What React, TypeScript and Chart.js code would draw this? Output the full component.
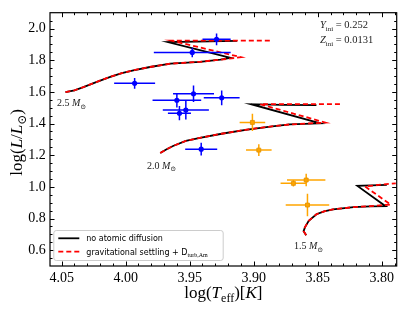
import React, { useEffect, useRef } from 'react';
import { Chart, registerables } from 'chart.js';

Chart.register(...registerables);

// ---------- axis limits & ticks ----------
const X_MIN = 3.7883;
const X_MAX = 4.0591;
const Y_MIN = 0.5;
const Y_MAX = 2.1;
const xTickValues = [4.05, 4.0, 3.95, 3.9, 3.85, 3.8];
const yTickValues = [0.6, 0.8, 1.0, 1.2, 1.4, 1.6, 1.8, 2.0];

// ---------- evolutionary tracks [log Teff, log L] ----------
const track25NoDiffusion: [number, number][] = [
  [4.047, 1.598], [4.040, 1.610], [4.033, 1.630], [4.022, 1.665], [4.012, 1.695], [4.003, 1.718],
  [3.994, 1.736], [3.981, 1.757], [3.965, 1.778], [3.942, 1.790], [3.926, 1.803], [3.918, 1.815],
  [3.967, 1.914], [3.945, 1.917], [3.913, 1.922],
];
const track25Settling: [number, number][] = [
  [4.047, 1.598], [4.040, 1.610], [4.033, 1.630], [4.022, 1.665], [4.012, 1.695], [4.003, 1.718],
  [3.994, 1.736], [3.981, 1.757], [3.965, 1.778], [3.942, 1.790], [3.926, 1.803], [3.910, 1.819],
  [3.964, 1.923], [3.930, 1.923], [3.887, 1.923],
];
const track20NoDiffusion: [number, number][] = [
  [3.973, 1.214], [3.968, 1.237], [3.963, 1.258], [3.953, 1.290], [3.942, 1.310], [3.924, 1.337],
  [3.905, 1.362], [3.887, 1.381], [3.872, 1.394], [3.848, 1.401],
  [3.902, 1.522], [3.878, 1.518], [3.851, 1.516],
];
const track20Settling: [number, number][] = [
  [3.973, 1.214], [3.968, 1.237], [3.963, 1.258], [3.953, 1.290], [3.942, 1.310], [3.924, 1.337],
  [3.905, 1.362], [3.887, 1.381], [3.872, 1.394], [3.844, 1.406],
  [3.895, 1.522], [3.860, 1.522], [3.831, 1.522],
];
const track15NoDiffusion: [number, number][] = [
  [3.859, 0.694], [3.861, 0.720], [3.860, 0.744], [3.857, 0.786], [3.851, 0.827], [3.845, 0.845],
  [3.838, 0.858], [3.822, 0.872], [3.809, 0.877], [3.797, 0.878],
  [3.819, 1.006], [3.808, 1.009], [3.796, 1.012],
];
const track15Settling: [number, number][] = [
  [3.859, 0.694], [3.861, 0.720], [3.860, 0.744], [3.857, 0.786], [3.851, 0.827], [3.845, 0.845],
  [3.838, 0.858], [3.822, 0.872], [3.809, 0.878], [3.793, 0.888],
  [3.813, 1.002], [3.800, 1.015], [3.789, 1.022],
];

// ---------- observed stars ----------
const blueTeff = [3.948, 3.929, 3.993, 3.947, 3.960, 3.925, 3.953, 3.958, 3.941];
const blueL = [1.849, 1.932, 1.654, 1.588, 1.547, 1.562, 1.485, 1.465, 1.238];
const blueTeffErr = [0.030, 0.011, 0.016, 0.016, 0.019, 0.014, 0.018, 0.009, 0.0125];
const blueLErr = [0.030, 0.037, 0.034, 0.052, 0.046, 0.046, 0.060, 0.045, 0.040];

const orangeTeff = [3.901, 3.896, 3.869, 3.859, 3.858];
const orangeL = [1.407, 1.232, 1.022, 1.043, 0.885];
const orangeTeffErr = [0.010, 0.010, 0.010, 0.015, 0.017];
const orangeLErr = [0.055, 0.037, 0.020, 0.040, 0.071];

const massLabels = ['2.5', '2.0', '1.5'];
const legendLabels = ['no atomic diffusion', 'gravitational settling + D'];
const yIniText = '0.252';
const zIniText = '0.0131';

const BLUE = '#0000ff';
const ORANGE = '#ffa500';
const SERIF = '"Liberation Serif", "DejaVu Serif", serif';
const SANS = '"DejaVu Sans", sans-serif';

type Part = { t: string; it?: boolean; sub?: boolean; fam?: string };

function drawRich(ctx: CanvasRenderingContext2D, parts: Part[], x: number, y: number, size: number, align: 'left' | 'center' = 'left') {
  const fontOf = (p: Part) => `${p.it ? 'italic ' : ''}${p.sub ? Math.round(size * 0.7) : size}px ${p.fam || SERIF}`;
  const widths = parts.map((p) => { ctx.font = fontOf(p); return ctx.measureText(p.t).width; });
  const total = widths.reduce((a, b) => a + b, 0);
  let cx = align === 'center' ? x - total / 2 : x;
  ctx.textAlign = 'left';
  ctx.textBaseline = 'alphabetic';
  parts.forEach((p, i) => {
    ctx.font = fontOf(p);
    ctx.fillText(p.t, cx, y + (p.sub ? size * 0.25 : 0));
    cx += widths[i];
  });
}

const toXY = (arr: [number, number][]) => arr.map(([x, y]) => ({ x, y }));

const decorPlugin = {
  id: 'decor',
  beforeDatasetDraw(chart: any, args: any) {
    const ctx: CanvasRenderingContext2D = chart.ctx;
    const xs = chart.scales.x;
    const ys = chart.scales.y;
    const drawErr = (tx: number[], ly: number[], ex: number[], ey: number[], color: string) => {
      ctx.save();
      ctx.strokeStyle = color;
      ctx.lineWidth = 1.5;
      ctx.beginPath();
      tx.forEach((v, i) => {
        const px = xs.getPixelForValue(v);
        const py = ys.getPixelForValue(ly[i]);
        ctx.moveTo(xs.getPixelForValue(v - ex[i]), py);
        ctx.lineTo(xs.getPixelForValue(v + ex[i]), py);
        ctx.moveTo(px, ys.getPixelForValue(ly[i] - ey[i]));
        ctx.lineTo(px, ys.getPixelForValue(ly[i] + ey[i]));
      });
      ctx.stroke();
      ctx.restore();
    };
    if (args.index === 0) drawErr(blueTeff, blueL, blueTeffErr, blueLErr, BLUE);
    if (args.index === 1) drawErr(orangeTeff, orangeL, orangeTeffErr, orangeLErr, ORANGE);
  },
  afterDraw(chart: any) {
    const ctx: CanvasRenderingContext2D = chart.ctx;
    const { left, right, top, bottom } = chart.chartArea;
    const xs = chart.scales.x;
    const ys = chart.scales.y;
    ctx.save();
    ctx.strokeStyle = '#000';
    ctx.lineWidth = 1;
    ctx.beginPath();
    for (let i = 379; i <= 405; i++) {
      const v = i / 100;
      const major = i % 5 === 0;
      const len = major ? 4.5 : 2.5;
      const px = Math.round(xs.getPixelForValue(v)) + 0.5;
      if (px <= left || px >= right) continue;
      ctx.moveTo(px, bottom); ctx.lineTo(px, bottom - len);
      ctx.moveTo(px, top); ctx.lineTo(px, top + len);
    }
    for (let i = 11; i <= 41; i++) {
      const v = i / 20;
      const major = i % 4 === 0;
      const len = major ? 4.5 : 2.5;
      const py = Math.round(ys.getPixelForValue(v)) + 0.5;
      if (py <= top || py >= bottom) continue;
      ctx.moveTo(left, py); ctx.lineTo(left + len, py);
      ctx.moveTo(right, py); ctx.lineTo(right - len, py);
    }
    ctx.stroke();
    ctx.lineWidth = 1.2;
    ctx.strokeRect(left, top, right - left, bottom - top);

    ctx.fillStyle = '#000';
    drawRich(ctx, [
      { t: 'log(' }, { t: 'T', it: true }, { t: 'eff', sub: true }, { t: ')[' }, { t: 'K', it: true }, { t: ']' },
    ], (left + right) / 2, 298, 17, 'center');
    ctx.save();
    ctx.translate(22, (top + bottom) / 2 + 3);
    ctx.rotate(-Math.PI / 2);
    drawRich(ctx, [
      { t: 'log(' }, { t: 'L', it: true }, { t: '/' }, { t: 'L', it: true }, { t: '\u2299', sub: true }, { t: ')' },
    ], 0, 0, 17, 'center');
    ctx.restore();

    ctx.fillStyle = '#222';
    const massPos: [number, number][] = [[4.0537, 1.508], [3.9834, 1.113], [3.8685, 0.607]];
    massLabels.forEach((m, i) => {
      drawRich(ctx, [{ t: m + ' ' }, { t: 'M', it: true }, { t: '\u2299', sub: true }],
        xs.getPixelForValue(massPos[i][0]), ys.getPixelForValue(massPos[i][1]), 10);
    });
    drawRich(ctx, [{ t: 'Y', it: true }, { t: 'ini', sub: true }, { t: ' = ' + yIniText }],
      xs.getPixelForValue(3.8483), ys.getPixelForValue(2.002), 10.5);
    drawRich(ctx, [{ t: 'Z', it: true }, { t: 'ini', sub: true }, { t: ' = ' + zIniText }],
      xs.getPixelForValue(3.8483), ys.getPixelForValue(1.909), 10.5);

    const lx = left + 3.3, ly = bottom - 36, lw = 169.4, lh = 30;
    ctx.beginPath();
    (ctx as any).roundRect(lx + 0.5, ly + 0.5, lw, lh, 2.5);
    ctx.fillStyle = 'rgba(255,255,255,0.85)';
    ctx.fill();
    ctx.strokeStyle = '#cccccc';
    ctx.lineWidth = 1;
    ctx.stroke();
    const row1 = ly + 8.3, row2 = ly + 21.7;
    ctx.lineWidth = 1.8;
    ctx.strokeStyle = '#000';
    ctx.setLineDash([]);
    ctx.beginPath(); ctx.moveTo(lx + 5, row1); ctx.lineTo(lx + 26, row1); ctx.stroke();
    ctx.strokeStyle = '#ff0000';
    ctx.setLineDash([5, 3]);
    ctx.beginPath(); ctx.moveTo(lx + 5, row2); ctx.lineTo(lx + 26, row2); ctx.stroke();
    ctx.setLineDash([]);
    ctx.fillStyle = '#000';
    drawRich(ctx, [{ t: legendLabels[0], fam: SANS }], lx + 33, row1 + 3, 8);
    drawRich(ctx, [{ t: legendLabels[1], fam: SANS }, { t: 'turb,Am', sub: true }], lx + 33, row2 + 3, 8);
    ctx.restore();
  },
};

export default function App() {
  const ref = useRef<HTMLCanvasElement>(null);
  useEffect(() => {
    document.body.style.margin = '0';
    const lineDs = (label: string, data: [number, number][], color: string, dashed: boolean) => ({
      label,
      data: toXY(data),
      showLine: true,
      borderColor: color,
      borderWidth: 1.8,
      borderDash: dashed ? [5, 3] : [],
      pointRadius: 0,
      tension: 0,
      fill: false,
    });
    const chart = new Chart(ref.current!, {
      type: 'scatter',
      data: {
        datasets: [
          {
            label: 'blue stars',
            data: blueTeff.map((x, i) => ({ x, y: blueL[i] })),
            pointRadius: 2.6,
            pointStyle: 'circle',
            backgroundColor: BLUE,
            borderColor: BLUE,
            borderWidth: 0,
          },
          {
            label: 'orange stars',
            data: orangeTeff.map((x, i) => ({ x, y: orangeL[i] })),
            pointRadius: 2.8,
            pointStyle: 'rect',
            backgroundColor: ORANGE,
            borderColor: '#e09000',
            borderWidth: 0.8,
          },
          lineDs('2.5 settling', track25Settling, '#ff0000', true),
          lineDs('2.0 settling', track20Settling, '#ff0000', true),
          lineDs('1.5 settling', track15Settling, '#ff0000', true),
          lineDs('2.5 no diffusion', track25NoDiffusion, '#000000', false),
          lineDs('2.0 no diffusion', track20NoDiffusion, '#000000', false),
          lineDs('1.5 no diffusion', track15NoDiffusion, '#000000', false),
        ] as any,
      },
      options: {
        responsive: false,
        animation: false,
        devicePixelRatio: 1,
        events: [],
        layout: { padding: { left: 0, top: 6.7, right: 7.3, bottom: 0 } },
        plugins: { legend: { display: false }, tooltip: { enabled: false } },
        scales: {
          x: {
            type: 'linear',
            reverse: true,
            min: X_MIN,
            max: X_MAX,
            grid: { display: false, drawTicks: false },
            border: { display: false },
            afterBuildTicks: (s: any) => { s.ticks = xTickValues.map((v) => ({ value: v })); },
            afterFit: (s: any) => { s.height = 45; },
            ticks: {
              autoSkip: false,
              maxRotation: 0,
              padding: 4,
              color: '#000',
              font: { family: SERIF, size: 14 },
              callback: (v: any) => Number(v).toFixed(2),
            },
          },
          y: {
            type: 'linear',
            min: Y_MIN,
            max: Y_MAX,
            grid: { display: false, drawTicks: false },
            border: { display: false },
            afterBuildTicks: (s: any) => { s.ticks = yTickValues.map((v) => ({ value: v })); },
            afterFit: (s: any) => { s.width = 50; },
            ticks: {
              autoSkip: false,
              padding: 4.3,
              color: '#000',
              font: { family: SERIF, size: 14 },
              callback: (v: any) => Number(v).toFixed(1),
            },
          },
        },
      } as any,
      plugins: [decorPlugin],
    });
    return () => chart.destroy();
  }, []);
  return (
    <div style={{ width: 404, height: 311, position: 'relative' }}>
      <canvas ref={ref} width={404} height={311} style={{ display: 'block' }} />
    </div>
  );
}
